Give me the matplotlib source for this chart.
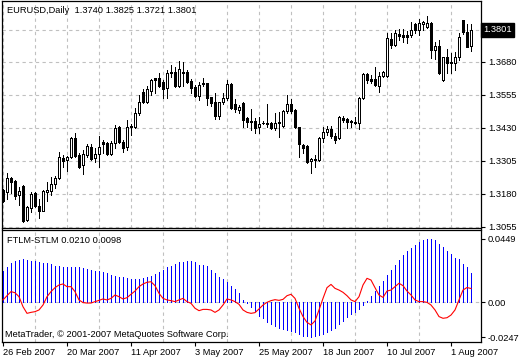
import matplotlib
matplotlib.use('Agg')
from matplotlib import pyplot as plt
from matplotlib import transforms

plt.rcParams['font.family'] = ['Liberation Sans', 'DejaVu Sans']

titulo = 'EURUSD,Daily  1.3740 1.3825 1.3721 1.3801'
titulo_ind = 'FTLM-STLM 0.0210 0.0098'
copyright_txt = 'MetaTrader, \u00a9 2001-2007 MetaQuotes Software Corp.'

aperturas = [
    1.3195, 1.3187, 1.3240, 1.3229, 1.3176, 1.3210, 1.3081, 1.3126, 1.3183, 1.3134,
    1.3115, 1.3187, 1.3191, 1.3217, 1.3240, 1.3316, 1.3308, 1.3320, 1.3392, 1.3327,
    1.3289, 1.3327, 1.3358, 1.3316, 1.3331, 1.3377, 1.3373, 1.3331, 1.3373, 1.3433,
    1.3377, 1.3358, 1.3433, 1.3433, 1.3486, 1.3566, 1.3528, 1.3570, 1.3619, 1.3619,
    1.3604, 1.3581, 1.3642, 1.3642, 1.3589, 1.3638, 1.3642, 1.3608, 1.3585, 1.3551,
    1.3600, 1.3600, 1.3547, 1.3528, 1.3475, 1.3528, 1.3543, 1.3596, 1.3520, 1.3498,
    1.3524, 1.3467, 1.3456, 1.3456, 1.3433, 1.3447, 1.3449, 1.3449, 1.3430, 1.3449,
    1.3437, 1.3494, 1.3520, 1.3498, 1.3433, 1.3365, 1.3361, 1.3305, 1.3308, 1.3308,
    1.3392, 1.3414, 1.3426, 1.3399, 1.3392, 1.3467, 1.3464, 1.3456, 1.3449, 1.3449,
    1.3543, 1.3634, 1.3615, 1.3615, 1.3589, 1.3627, 1.3627, 1.3767, 1.3744, 1.3786,
    1.3782, 1.3782, 1.3782, 1.3824, 1.3801, 1.3824, 1.3812, 1.3828, 1.3725, 1.3740,
    1.3612, 1.3699, 1.3680, 1.3676, 1.3699, 1.3839, 1.3793, 1.3740]
maximos = [
    1.3198, 1.3259, 1.3244, 1.3232, 1.3206, 1.3214, 1.3134, 1.3187, 1.3187, 1.3160,
    1.3195, 1.3225, 1.3244, 1.3248, 1.3339, 1.3327, 1.3324, 1.3396, 1.3411, 1.3335,
    1.3346, 1.3369, 1.3369, 1.3354, 1.3399, 1.3384, 1.3377, 1.3380, 1.3441, 1.3437,
    1.3384, 1.3460, 1.3445, 1.3505, 1.3555, 1.3577, 1.3589, 1.3615, 1.3619, 1.3638,
    1.3612, 1.3649, 1.3668, 1.3661, 1.3684, 1.3680, 1.3649, 1.3615, 1.3593, 1.3604,
    1.3619, 1.3600, 1.3547, 1.3562, 1.3528, 1.3562, 1.3612, 1.3600, 1.3539, 1.3517,
    1.3528, 1.3471, 1.3502, 1.3467, 1.3471, 1.3456, 1.3520, 1.3452, 1.3486, 1.3490,
    1.3498, 1.3555, 1.3539, 1.3502, 1.3433, 1.3369, 1.3365, 1.3316, 1.3327, 1.3396,
    1.3433, 1.3437, 1.3437, 1.3411, 1.3475, 1.3475, 1.3467, 1.3460, 1.3471, 1.3547,
    1.3638, 1.3638, 1.3631, 1.3661, 1.3642, 1.3646, 1.3790, 1.3790, 1.3801, 1.3805,
    1.3805, 1.3797, 1.3831, 1.3828, 1.3843, 1.3835, 1.3854, 1.3831, 1.3756, 1.3763,
    1.3699, 1.3729, 1.3714, 1.3718, 1.3790, 1.3839, 1.3824, 1.3825]
minimos = [
    1.3149, 1.3160, 1.3183, 1.3160, 1.3138, 1.3074, 1.3077, 1.3111, 1.3130, 1.3089,
    1.3115, 1.3153, 1.3176, 1.3202, 1.3236, 1.3282, 1.3267, 1.3316, 1.3320, 1.3278,
    1.3255, 1.3320, 1.3308, 1.3301, 1.3282, 1.3335, 1.3327, 1.3327, 1.3354, 1.3373,
    1.3339, 1.3346, 1.3403, 1.3430, 1.3479, 1.3524, 1.3524, 1.3555, 1.3562, 1.3585,
    1.3543, 1.3543, 1.3623, 1.3585, 1.3585, 1.3589, 1.3600, 1.3562, 1.3547, 1.3536,
    1.3589, 1.3517, 1.3513, 1.3464, 1.3464, 1.3520, 1.3536, 1.3502, 1.3490, 1.3486,
    1.3433, 1.3433, 1.3422, 1.3411, 1.3411, 1.3445, 1.3433, 1.3426, 1.3422, 1.3396,
    1.3433, 1.3486, 1.3486, 1.3430, 1.3320, 1.3335, 1.3297, 1.3259, 1.3282, 1.3305,
    1.3377, 1.3403, 1.3392, 1.3373, 1.3388, 1.3452, 1.3430, 1.3433, 1.3445, 1.3426,
    1.3539, 1.3600, 1.3600, 1.3589, 1.3566, 1.3623, 1.3623, 1.3733, 1.3740, 1.3763,
    1.3756, 1.3752, 1.3774, 1.3790, 1.3782, 1.3801, 1.3809, 1.3695, 1.3691, 1.3634,
    1.3608, 1.3638, 1.3638, 1.3649, 1.3687, 1.3786, 1.3737, 1.3721]
cierres = [
    1.3153, 1.3240, 1.3225, 1.3172, 1.3191, 1.3077, 1.3130, 1.3179, 1.3134, 1.3115,
    1.3191, 1.3195, 1.3217, 1.3240, 1.3320, 1.3305, 1.3320, 1.3392, 1.3324, 1.3282,
    1.3331, 1.3361, 1.3312, 1.3331, 1.3358, 1.3369, 1.3331, 1.3373, 1.3430, 1.3377,
    1.3354, 1.3433, 1.3437, 1.3486, 1.3528, 1.3528, 1.3577, 1.3612, 1.3612, 1.3589,
    1.3577, 1.3638, 1.3638, 1.3589, 1.3653, 1.3642, 1.3604, 1.3581, 1.3551, 1.3593,
    1.3596, 1.3543, 1.3524, 1.3475, 1.3528, 1.3543, 1.3596, 1.3505, 1.3502, 1.3509,
    1.3460, 1.3452, 1.3452, 1.3430, 1.3445, 1.3449, 1.3445, 1.3430, 1.3449, 1.3452,
    1.3494, 1.3520, 1.3494, 1.3433, 1.3369, 1.3354, 1.3301, 1.3312, 1.3312, 1.3392,
    1.3414, 1.3426, 1.3399, 1.3384, 1.3471, 1.3460, 1.3452, 1.3452, 1.3452, 1.3543,
    1.3634, 1.3612, 1.3608, 1.3593, 1.3627, 1.3642, 1.3771, 1.3744, 1.3790, 1.3778,
    1.3774, 1.3774, 1.3801, 1.3801, 1.3828, 1.3831, 1.3828, 1.3725, 1.3740, 1.3638,
    1.3699, 1.3676, 1.3676, 1.3699, 1.3774, 1.3793, 1.3737, 1.3801]

# histograma FTLM-STLM (azul) y linea roja
ftlm_stlm = [
    0.0225, 0.0248, 0.0276, 0.0290, 0.0302, 0.0306, 0.0302, 0.0295, 0.0295, 0.0283,
    0.0276, 0.0276, 0.0269, 0.0260, 0.0255, 0.0248, 0.0248, 0.0248, 0.0253, 0.0248,
    0.0244, 0.0237, 0.0230, 0.0225, 0.0225, 0.0213, 0.0206, 0.0197, 0.0190, 0.0183,
    0.0179, 0.0172, 0.0167, 0.0167, 0.0167, 0.0172, 0.0179, 0.0190, 0.0202, 0.0213,
    0.0230, 0.0248, 0.0260, 0.0271, 0.0283, 0.0288, 0.0290, 0.0290, 0.0288, 0.0267,
    0.0264, 0.0255, 0.0232, 0.0209, 0.0183, 0.0167, 0.0144, 0.0114, 0.0093, 0.0065,
    0.0016, -0.0005, -0.0032, -0.0062, -0.0094, -0.0114, -0.0138, -0.0156, -0.0168, -0.0180,
    -0.0188, -0.0198, -0.0205, -0.0212, -0.0222, -0.0235, -0.0242, -0.0247, -0.0242, -0.0230,
    -0.0225, -0.0212, -0.0198, -0.0180, -0.0156, -0.0131, -0.0106, -0.0086, -0.0067, -0.0044,
    -0.0020, 0.0009, 0.0046, 0.0081, 0.0116, 0.0148, 0.0192, 0.0232, 0.0266, 0.0300,
    0.0333, 0.0363, 0.0386, 0.0409, 0.0427, 0.0444, 0.0449, 0.0449, 0.0439, 0.0416,
    0.0390, 0.0363, 0.0340, 0.0316, 0.0305, 0.0275, 0.0247, 0.0210]
senal = [
    0.0017, 0.0047, 0.0076, 0.0068, 0.0040, -0.0031, -0.0078, -0.0071, -0.0066, -0.0054,
    -0.0019, 0.0040, 0.0076, 0.0104, 0.0123, 0.0130, 0.0111, 0.0111, 0.0076, 0.0017,
    -0.0002, -0.0005, -0.0005, 0.0005, 0.0014, 0.0024, 0.0017, 0.0028, 0.0052, 0.0040,
    0.0024, 0.0033, 0.0057, 0.0080, 0.0111, 0.0130, 0.0142, 0.0146, 0.0118, 0.0064,
    0.0028, 0.0017, 0.0012, 0.0005, 0.0017, 0.0028, 0.0005, -0.0007, -0.0042, -0.0059,
    -0.0050, -0.0050, -0.0054, -0.0071, -0.0054, -0.0019, 0.0024, 0.0017, 0.0005, -0.0014,
    -0.0054, -0.0071, -0.0078, -0.0073, -0.0047, -0.0019, 0.0000, 0.0012, 0.0019, 0.0014,
    0.0021, 0.0047, 0.0057, 0.0028, -0.0042, -0.0101, -0.0142, -0.0160, -0.0132, -0.0054,
    0.0028, 0.0104, 0.0127, 0.0099, 0.0087, 0.0071, 0.0047, 0.0017, 0.0005, 0.0040,
    0.0123, 0.0170, 0.0158, 0.0104, 0.0052, 0.0035, 0.0080, 0.0087, 0.0111, 0.0135,
    0.0118, 0.0080, 0.0052, 0.0017, 0.0005, 0.0005, 0.0000, -0.0019, -0.0054, -0.0101,
    -0.0113, -0.0109, -0.0090, -0.0054, 0.0017, 0.0087, 0.0105, 0.0098]

fechas = ['26 Feb 2007', '20 Mar 2007', '11 Apr 2007', '3 May 2007',
          '25 May 2007', '18 Jun 2007', '10 Jul 2007', '1 Aug 2007']
precios_eje = [1.3680, 1.3555, 1.3430, 1.3305, 1.3180, 1.3055]
ultimo = 1.3801
ind_eje = [0.0449, 0.0, -0.0247]
ind_etiquetas = ['0.0449', '0.00', '-0.0247']

n = len(cierres)
x = list(range(n))
gris = '#c0c0c0'
rejilla = dict(color=gris, linestyle=(0, (3, 3)), linewidth=0.8)
tam = 6.7
fino = 0.5  # ~1 pixel sin antialias

fig = plt.figure(figsize=(5.2, 3.6), dpi=100)
ax = fig.add_axes([2 / 520, 1 - 227.5 / 360, 479 / 520, 226.5 / 360])
ax2 = fig.add_axes([2 / 520, 1 - 342 / 360, 479 / 520, 112.5 / 360])

# Velas
ax.vlines(x, minimos, maximos, color='black', linewidth=fino, zorder=3,
          antialiased=False)
for i in x:
    o, c = aperturas[i], cierres[i]
    color = 'white' if c >= o else 'black'
    alto = abs(c - o)
    if alto < 0.00005:
        alto = 0.00005
    ax.bar(i, alto, bottom=min(o, c), width=0.5, facecolor=color,
           edgecolor='black', linewidth=fino, zorder=4, antialiased=False)

ax.set_xlim(-0.25, -0.25 + 479 / 4)
ax.set_ylim(1.30525, 1.39109)
ax.set_yticks(precios_eje)
ax.set_yticklabels(['%.4f' % p for p in precios_eje])
ax.yaxis.tick_right()
ax.set_xticks([i for i in range(0, n, 8)])
ax.tick_params(axis='x', length=0, labelbottom=False)
ax.tick_params(axis='y', length=3, width=0.8, pad=2, labelsize=tam)
ax.grid(True, **rejilla)
ax.axhline(ultimo, zorder=1, **rejilla)
ax.set_axisbelow(True)
trans = transforms.blended_transform_factory(ax.transAxes, ax.transData)
ax.text(1.004, ultimo, '%.4f' % ultimo, transform=trans, color='white',
        fontsize=tam, va='center', ha='left',
        bbox=dict(facecolor='black', edgecolor='black', pad=1.6))
ax.text(0.0104, 0.978, titulo, transform=ax.transAxes, fontsize=tam,
        va='top', ha='left')

# Indicador
ax2.vlines(x, 0, ftlm_stlm, color='#0000ff', linewidth=fino, zorder=3,
           antialiased=False)
ax2.plot(x, senal, color='#ff0000', linewidth=0.8, zorder=4)
ax2.axhline(0, zorder=1, **rejilla)
ax2.set_xlim(-0.25, -0.25 + 479 / 4)
ax2.set_ylim(-0.0281, 0.0516)
ax2.set_yticks(ind_eje)
ax2.set_yticklabels(ind_etiquetas)
ax2.yaxis.tick_right()
ax2.set_xticks([i for i in range(0, n, 8)], minor=True)
ax2.xaxis.grid(True, which='minor', **rejilla)
ax2.set_xticks([i for i in range(0, n, 16)])
ax2.set_xticklabels(fechas)
for t in ax2.get_xticklabels():
    t.set_horizontalalignment('left')
ax2.tick_params(axis='x', which='minor', length=0)
ax2.tick_params(axis='x', which='major', length=3, width=0.8, pad=1, labelsize=tam)
ax2.tick_params(axis='y', length=3, width=0.8, pad=2, labelsize=tam)
ax2.set_axisbelow(True)
ax2.text(0.0104, 0.942, titulo_ind, transform=ax2.transAxes, fontsize=tam,
         va='top', ha='left')
ax2.text(0.006, 0.03, copyright_txt, transform=ax2.transAxes, fontsize=tam,
         va='bottom', ha='left')

for a in (ax, ax2):
    for s in a.spines.values():
        s.set_linewidth(0.9)

fig.savefig('out.png', dpi=100)
